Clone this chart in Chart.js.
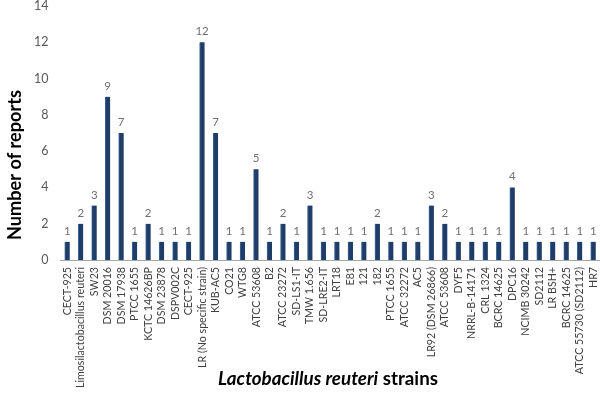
<!DOCTYPE html>
<html><head><meta charset="utf-8">
<script src="https://cdn.jsdelivr.net/npm/chart.js@4/dist/chart.umd.min.js"></script>
<style>html,body{margin:0;padding:0;background:#fff}#wrap{width:600px;height:415px;position:relative}</style>
</head><body><div id="wrap"><canvas id="c" width="600" height="415"></canvas></div>
<script>
const strains = ["CECT-925","Limosilactobacillus reuteri","SW23","DSM 20016","DSM 17938","PTCC 1655","KCTC 14626BP","DSM 23878","DSPV002C","CECT-925","LR (No specific strain)","KUB-AC5","CO21","WTG8","ATCC 53608","B2","ATCC 23272","SD-LS1-IT","TMW 1.656","SD-LRE2-IT","LRT18","E81","121","182","PTCC 1655","ATCC 32272","AC5","LR92 (DSM 26866)","ATCC 53608","DYF5","NRRL-B-14171","CRL 1324","BCRC 14625","DPC16","NCIMB 30242","SD2112","LR BSH+","BCRC 14625","ATCC 55730 (SD2112)","HR7"];
const reports = [1,2,3,9,7,1,2,1,1,1,12,7,1,1,5,1,2,1,3,1,1,1,1,2,1,1,1,3,2,1,1,1,1,4,1,1,1,1,1,1];
const yTicks = [0,2,4,6,8,10,12,14];
const yTitle = "Number of reports";
const xTitleItalic = "Lactobacillus reuteri";
const xTitleRest = " strains";

const FAM = 'Lato, "Open Sans", sans-serif';
const mctx = document.createElement('canvas').getContext('2d');
function fitSize(text, style, target) {
  mctx.font = style + ' 10px ' + FAM;
  return 10 * target / mctx.measureText(text).width;
}
const xTickSize = Math.min(12, fitSize("LR (No specific strain)", 'normal', 101));
const yTitleSize = Math.min(22, fitSize(yTitle, 'bold', 150));
mctx.font = 'italic bold 10px ' + FAM;
const wi10 = mctx.measureText(xTitleItalic).width;
mctx.font = 'bold 10px ' + FAM;
const wr10 = mctx.measureText(xTitleRest).width;
const xTitleSize = Math.min(22, 10 * 220 / (wi10 + wr10));

const labelsPlugin = {
  id: 'vals',
  afterDatasetsDraw(chart) {
    const ctx = chart.ctx;
    const meta = chart.getDatasetMeta(0);
    ctx.save();
    ctx.font = '11.5px ' + FAM;
    ctx.fillStyle = '#707070';
    ctx.textAlign = 'center';
    ctx.textBaseline = 'bottom';
    meta.data.forEach((bar, i) => {
      ctx.fillText(String(reports[i]), bar.x, bar.y - 5);
    });
    ctx.restore();
  }
};
const titlesPlugin = {
  id: 'titles',
  afterDraw(chart) {
    const ctx = chart.ctx;
    ctx.save();
    ctx.fillStyle = '#000';
    ctx.textBaseline = 'middle';
    ctx.save();
    ctx.translate(15, 165);
    ctx.rotate(-Math.PI / 2);
    ctx.textAlign = 'center';
    ctx.font = 'bold ' + yTitleSize + 'px ' + FAM;
    ctx.fillText(yTitle, 0, 0);
    ctx.restore();
    const fi = 'italic bold ' + xTitleSize + 'px ' + FAM;
    const fr = 'bold ' + xTitleSize + 'px ' + FAM;
    ctx.font = fi; const w1 = ctx.measureText(xTitleItalic).width;
    ctx.font = fr; const w2 = ctx.measureText(xTitleRest).width;
    const cx = 328;
    let x = cx - (w1 + w2) / 2;
    const y = 379;
    ctx.textAlign = 'left';
    ctx.font = fi; ctx.fillText(xTitleItalic, x, y);
    ctx.font = fr; ctx.fillText(xTitleRest, x + w1, y);
    ctx.restore();
  }
};

new Chart(document.getElementById('c'), {
  type: 'bar',
  data: {
    labels: strains,
    datasets: [{
      data: reports,
      backgroundColor: '#1f3d66',
      borderColor: '#3c679c',
      borderWidth: {left: 1, right: 0, top: 0, bottom: 0},
      barThickness: 5
    }]
  },
  options: {
    responsive: false,
    animation: false,
    layout: { padding: { top: 6, right: 0, left: 22, bottom: 0 } },
    plugins: { legend: { display: false }, tooltip: { enabled: false } },
    scales: {
      x: {
        grid: { display: false, drawTicks: false },
        border: { display: true, color: '#a6a6a6', width: 1 },
        ticks: {
          autoSkip: false, maxRotation: 90, minRotation: 90, padding: 7,
          color: '#404040',
          font: { family: FAM, size: xTickSize }
        },
        afterFit(s) { s.height = 155; s.paddingLeft = 0; s.paddingRight = 0; }
      },
      y: {
        min: 0, max: 14,
        grid: { display: false, drawTicks: false },
        border: { display: false },
        afterBuildTicks(s) { s.ticks = yTicks.map(v => ({ value: v })); },
        ticks: {
          padding: 12,
          color: '#595959',
          font: { family: FAM, size: 12.5 }
        },
        afterFit(s) { s.paddingTop = 0; s.paddingBottom = 0; }
      }
    }
  },
  plugins: [labelsPlugin, titlesPlugin]
});
</script></body></html>
